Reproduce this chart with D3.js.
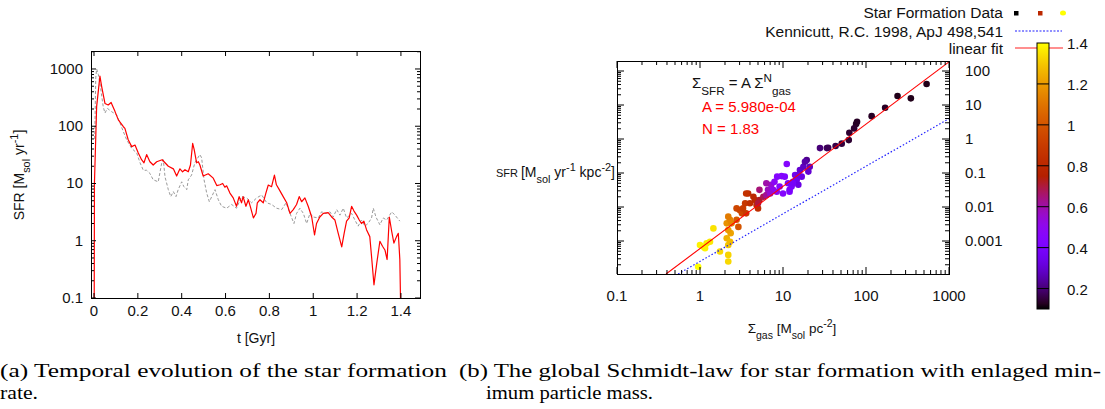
<!DOCTYPE html>
<html>
<head>
<meta charset="utf-8">
<script src="https://cdn.jsdelivr.net/npm/d3@7"></script>
<style>
    body { margin: 0; background: #fff; }
    svg text { font-family: "Liberation Sans", Arial, sans-serif; fill: #111; }
    svg text.caption { font-family: "Liberation Serif", "DejaVu Serif", serif; fill: #000; }
</style>
</head>
<body>
<div id="chart"></div>
<script>
// ============================================================
//  Star formation: SFR(t) and global Schmidt law
// ============================================================

// --- Left panel: SFR vs time (simulation = red, reference = grey dashed) ---
const simT = [0.001, 0.002, 0.012, 0.027, 0.035, 0.05, 0.065, 0.078, 0.096, 0.111, 0.134, 0.141, 0.156, 0.172, 0.187,
    0.202, 0.217, 0.228, 0.24, 0.255, 0.27, 0.286, 0.311, 0.324, 0.339, 0.362, 0.377, 0.392, 0.404, 0.415, 0.43,
    0.44, 0.45, 0.457, 0.468, 0.476, 0.483, 0.498, 0.521, 0.544, 0.56, 0.575, 0.587, 0.597, 0.605, 0.62, 0.635,
    0.65, 0.662, 0.673, 0.68, 0.693, 0.704, 0.715, 0.727, 0.739, 0.745, 0.757, 0.772, 0.784, 0.795, 0.81, 0.823,
    0.832, 0.845, 0.863, 0.879, 0.894, 0.909, 0.924, 0.936, 0.947, 0.962, 0.977, 0.993, 1.006, 1.015, 1.03, 1.046,
    1.068, 1.084, 1.099, 1.114, 1.13, 1.141, 1.152, 1.164, 1.175, 1.186, 1.198, 1.21, 1.22, 1.231, 1.243, 1.258,
    1.266, 1.277, 1.29, 1.304, 1.316, 1.327, 1.337, 1.347, 1.358, 1.368, 1.38, 1.388, 1.395, 1.398];
const simSFR = [0.1, 10, 220, 750, 490, 250, 235, 260, 180, 129, 98, 92, 58, 44, 47,
    34, 26, 23, 32, 24, 21, 24, 26, 23, 20, 18, 13.5, 18, 16, 17.4, 16,
    21, 50, 39, 23, 24, 21, 13.5, 14.8, 12.4, 9.2, 9.5, 10, 8.6, 9.1, 6.8, 5.6,
    4, 5.9, 4.6, 5.9, 4, 5.2, 3.7, 2.5, 3.0, 4.6, 5.2, 4.6, 6.8, 9.4, 8.8, 14,
    9.5, 7.8, 5.9, 4.6, 3.0, 3.5, 4.3, 5.9, 4.8, 5.6, 4, 2.6, 1.26, 2.0, 2.6, 3.0,
    3.1, 2.6, 2.3, 1.35, 0.78, 1.35, 2.2, 2.5, 4, 3.3, 2.8, 2.3, 2.0, 2.2, 1.56, 1.18,
    0.53, 0.17, 0.41, 0.98, 0.8, 0.69, 0.47, 2.6, 1.45, 0.91, 1.18, 1.35, 0.47, 0.1];

const refT = [0.003, 0.008, 0.012, 0.02, 0.027, 0.042, 0.05, 0.061, 0.08, 0.103, 0.119, 0.134, 0.149, 0.172, 0.195,
    0.21, 0.225, 0.24, 0.255, 0.27, 0.293, 0.309, 0.316, 0.324, 0.339, 0.35, 0.362, 0.374, 0.384, 0.4, 0.41,
    0.423, 0.43, 0.445, 0.46, 0.476, 0.483, 0.491, 0.502, 0.514, 0.526, 0.537, 0.552, 0.567, 0.582, 0.605, 0.628,
    0.65, 0.673, 0.696, 0.719, 0.742, 0.765, 0.788, 0.81, 0.833, 0.856, 0.876, 0.894, 0.912, 0.924, 0.939, 0.955,
    0.97, 0.985, 1.0, 1.023, 1.038, 1.058, 1.076, 1.091, 1.107, 1.122, 1.137, 1.152, 1.175, 1.19, 1.205, 1.22,
    1.236, 1.25, 1.266, 1.274, 1.286, 1.304, 1.319, 1.335, 1.358, 1.373, 1.395];
const refSFR = [60, 700, 1000, 800, 560, 220, 170, 205, 180, 158, 113, 80, 58, 41, 34,
    23, 17, 17, 15, 11.6, 10.7, 23, 26, 13, 7.8, 5.9, 7.2, 5.9, 7.8, 10.7, 8.8,
    7.8, 11.6, 14, 23, 29, 32, 28, 11.6, 6.8, 4.8, 5.9, 7.8, 5.2, 4, 3.7, 4.3,
    3.7, 5.9, 5.6, 4.6, 5.6, 6.3, 4.6, 4.3, 3.7, 3.5, 4.6, 3.0, 2.0, 3.0, 3.7, 3.0,
    2.0, 3.0, 2.6, 2.5, 3.2, 3.0, 3.2, 2.6, 3.5, 2.8, 3.7, 2.5, 3.0, 2.3, 1.8, 2.3,
    1.8, 2.0, 2.5, 3.7, 2.6, 1.9, 2.5, 2.3, 3.2, 2.8, 2.2];

const tTicks = [0, 0.2, 0.4, 0.6, 0.8, 1, 1.2, 1.4];
const sfrTicks = [0.1, 1, 10, 100, 1000];

// --- Right panel: Sigma_SFR vs Sigma_gas, coloured by time [Gyr] ---
const gasSigma = [0.95, 1.0, 1.1, 1.2, 1.15, 1.32, 1.45, 1.74, 2.19, 2.19, 2.19, 2.1, 2.3, 2.34, 2.19,
    2.1, 2.4, 2.3, 2.19, 2.76, 2.9, 2.76, 3.0, 3.2, 3.3, 3.6, 3.5, 3.8, 4.0, 4.4,
    4.6, 4.8, 5.0, 5.2, 5.8, 5.0, 6.3, 6.6, 7.2, 7.6, 7.9, 8.5, 9.6, 10.5, 9.1,
    10.0, 12.0, 11.5, 13.2, 14.6, 11.1, 16, 17.6, 20.2, 19.3, 16.8, 14.6, 7.0, 8.4, 12.7,
    14, 15.3, 13.2, 21, 18.4, 15.3, 12, 3.6, 6.3, 5.2, 27.9, 33.8,
    537, 347, 240, 170, 117, 78, 76, 72, 63, 62, 51, 43, 35];
const sfrSigma = [1.75e-4, 7.6e-4, 6.8e-4, 8.5e-4, 6.1e-4, 9.5e-4, 2.35e-3, 4.9e-4, 7.6e-4, 3.9e-4, 2.5e-4, 1.2e-3, 9.5e-4, 1.7e-3, 2.1e-3,
    3.3e-3, 3.3e-3, 4.2e-3, 5.2e-3, 4.2e-3, 2.6e-3, 9.1e-3, 8.1e-3, 6.5e-3, 9.1e-3, 6.5e-3, 0.0129, 0.025, 0.0129, 0.02,
    0.016, 0.0115, 9.1e-3, 0.016, 0.02, 0.0129, 0.0225, 0.032, 0.045, 0.032, 0.055, 0.078, 0.081, 0.078, 0.04,
    0.025, 0.028, 0.05, 0.055, 0.069, 0.184, 0.123, 0.153, 0.11, 0.24, 0.078, 0.062, 0.025, 0.028, 0.04,
    0.087, 0.045, 0.05, 0.153, 0.214, 0.087, 0.032, 0.025, 0.05, 0.032, 0.54, 0.54,
    41.5, 15.7, 18.4, 8.3, 4.7, 3.2, 2.76, 2.05, 1.53, 0.93, 0.73, 0.62, 0.55];
const formTime = [1.40, 1.38, 1.38, 1.37, 1.38, 1.36, 1.35, 1.33, 1.30, 1.32, 1.33, 1.25, 1.27, 1.22, 1.20,
    1.18, 1.15, 1.15, 1.12, 1.02, 1.00, 0.95, 0.93, 0.95, 0.90, 0.90, 0.88, 0.82, 0.83, 0.80,
    0.80, 0.82, 0.83, 0.72, 0.68, 0.70, 0.62, 0.58, 0.55, 0.50, 0.48, 0.45, 0.45, 0.42, 0.45,
    0.45, 0.42, 0.40, 0.38, 0.35, 0.45, 0.30, 0.28, 0.30, 0.22, 0.33, 0.35, 0.55, 0.50, 0.40,
    0.35, 0.33, 0.38, 0.28, 0.25, 0.33, 0.40, 0.85, 0.60, 0.65, 0.20, 0.18,
    0.12, 0.12, 0.12, 0.13, 0.13, 0.13, 0.13, 0.14, 0.14, 0.14, 0.15, 0.16, 0.17];

const gasTicks = [0.1, 1, 10, 100, 1000];
const sigmaTicks = [0.001, 0.01, 0.1, 1, 10, 100];
const cbTicks = [0.2, 0.4, 0.6, 0.8, 1, 1.2, 1.4];

// fitted line and Kennicutt relation, end points
const fitGas = [0.39, 1000];
const fitSFR = [1.07e-4, 185];
const kenGas = [0.545, 1000];
const kenSFR = [1.07e-4, 3.96];

// gnuplot default palette (rgbformulae 7,5,15)
function gpColor(f) {
    f = Math.max(0, Math.min(1, f));
    const r = Math.sqrt(f), g = f * f * f, b = Math.max(0, Math.sin(2 * Math.PI * f));
    return d3.rgb(255 * r, 255 * g, 255 * b).formatHex();
}
const cbDomain = [0.1, 1.4];
const cbColor = v => gpColor((v - cbDomain[0]) / (cbDomain[1] - cbDomain[0]));

const svg = d3.select('#chart').append('svg')
    .attr('width', 1105)
    .attr('height', 409);

function richText(sel, parts, size) {
    parts.forEach(p => {
        const ts = sel.append('tspan').text(p.t);
        if (p.sub) ts.attr('baseline-shift', 'sub').attr('font-size', size * 0.78);
        if (p.sup) ts.attr('baseline-shift', 'super').attr('font-size', size * 0.78);
    });
    return sel;
}

// inward tick marks on all four sides
function frameTicks(g, box, xs, xTicks, ys, yTicks, majLen, minLen) {
    xTicks.forEach(t => {
        const x = xs(t.v), len = t.major ? majLen : minLen;
        g.append('line').attr('x1', x).attr('x2', x).attr('y1', box.bottom).attr('y2', box.bottom - len);
        g.append('line').attr('x1', x).attr('x2', x).attr('y1', box.top).attr('y2', box.top + len);
    });
    yTicks.forEach(t => {
        const y = ys(t.v), len = t.major ? majLen : minLen;
        g.append('line').attr('x1', box.left).attr('x2', box.left + len).attr('y1', y).attr('y2', y);
        g.append('line').attr('x1', box.right).attr('x2', box.right - len).attr('y1', y).attr('y2', y);
    });
}
const logTickList = s => s.ticks().map(v => ({ v, major: Math.abs(Math.log10(v) - Math.round(Math.log10(v))) < 1e-6 }));

// ============================================================
//  LEFT PANEL
// ============================================================
const L = { left: 91, right: 420, top: 51, bottom: 298 };
const xL = d3.scaleLinear().domain([-0.0137, 1.487]).range([L.left, L.right]);
const yL = d3.scaleLog().domain([0.1, 2060]).range([L.bottom, L.top]);

svg.append('clipPath').attr('id', 'clipL').append('rect')
    .attr('x', L.left).attr('y', L.top).attr('width', L.right - L.left).attr('height', L.bottom - L.top);

const lineL = d3.line().x(d => xL(d[0])).y(d => yL(d[1]));
const gL = svg.append('g').attr('clip-path', 'url(#clipL)');

gL.append('path')
    .datum(refT.map((t, i) => [t, refSFR[i]]))
    .attr('d', lineL)
    .attr('fill', 'none')
    .attr('stroke', '#9a9a9a')
    .attr('stroke-width', 1)
    .attr('stroke-dasharray', '3,2');

gL.append('path')
    .datum(simT.map((t, i) => [t, simSFR[i]]))
    .attr('d', lineL)
    .attr('fill', 'none')
    .attr('stroke', '#ff0000')
    .attr('stroke-width', 1.2)
    .attr('stroke-linejoin', 'round');

const tickL = svg.append('g').attr('stroke', '#000').attr('stroke-width', 1);
frameTicks(tickL, L, xL, tTicks.map(v => ({ v, major: true })), yL, logTickList(yL), 5, 3);

svg.append('rect')
    .attr('x', L.left + 0.5).attr('y', L.top + 0.5)
    .attr('width', L.right - L.left).attr('height', L.bottom - L.top)
    .attr('fill', 'none').attr('stroke', '#000');

svg.append('g').selectAll('text').data(sfrTicks).enter().append('text')
    .attr('x', 83).attr('y', d => yL(d) + 5)
    .attr('text-anchor', 'end').attr('font-size', 15)
    .text(d => String(d));

svg.append('g').selectAll('text').data(tTicks).enter().append('text')
    .attr('x', d => xL(d)).attr('y', 316)
    .attr('text-anchor', 'middle').attr('font-size', 15)
    .text(d => String(d));

richText(svg.append('text')
    .attr('transform', 'translate(24,175) rotate(-90)')
    .attr('text-anchor', 'middle').attr('font-size', 14),
    [{ t: 'SFR [M' }, { t: 'sol', sub: true }, { t: ' yr' }, { t: '-1', sup: true }, { t: ']' }], 14);

svg.append('text')
    .attr('x', 256).attr('y', 343)
    .attr('text-anchor', 'middle').attr('font-size', 14)
    .text('t [Gyr]');

// ============================================================
//  RIGHT PANEL
// ============================================================
const R = { left: 617, right: 949, top: 61, bottom: 274 };
const xR = d3.scaleLog().domain([0.1, 1000]).range([R.left, R.right]);
const yR = d3.scaleLog().domain([1.07e-4, 197]).range([R.bottom, R.top]);

svg.append('clipPath').attr('id', 'clipR').append('rect')
    .attr('x', R.left).attr('y', R.top).attr('width', R.right - R.left).attr('height', R.bottom - R.top);
const gR = svg.append('g').attr('clip-path', 'url(#clipR)');

// data points
gR.selectAll('.sf-pt')
    .data(gasSigma.map((g, i) => ({ gas: g, sfr: sfrSigma[i], t: formTime[i] })))
    .enter().append('circle')
    .attr('class', 'sf-pt')
    .attr('cx', d => xR(d.gas))
    .attr('cy', d => yR(d.sfr))
    .attr('r', 3.3)
    .attr('fill', d => cbColor(d.t));

const lineR = d3.line().x(d => xR(d[0])).y(d => yR(d[1]));
gR.append('path')
    .datum(kenGas.map((g, i) => [g, kenSFR[i]]))
    .attr('d', lineR)
    .attr('fill', 'none').attr('stroke', '#2020ff')
    .attr('stroke-width', 1.2).attr('stroke-dasharray', '1.5,2');
gR.append('path')
    .datum(fitGas.map((g, i) => [g, fitSFR[i]]))
    .attr('d', lineR)
    .attr('fill', 'none').attr('stroke', '#ff0000').attr('stroke-width', 1.1);

const tickR = svg.append('g').attr('stroke', '#000').attr('stroke-width', 1);
frameTicks(tickR, R, xR, logTickList(xR), yR, logTickList(yR), 7, 4);

svg.append('rect')
    .attr('x', R.left + 0.5).attr('y', R.top + 0.5)
    .attr('width', R.right - R.left).attr('height', R.bottom - R.top)
    .attr('fill', 'none').attr('stroke', '#000');

svg.append('g').selectAll('text').data(gasTicks).enter().append('text')
    .attr('x', d => xR(d)).attr('y', 301)
    .attr('text-anchor', 'middle').attr('font-size', 15)
    .text(d => String(d));

svg.append('g').selectAll('text').data(sigmaTicks).enter().append('text')
    .attr('x', 965).attr('y', d => yR(d) + 5)
    .attr('font-size', 15)
    .text(d => String(d));

// axis labels
const yLab = svg.append('text').attr('x', 615).attr('y', 177).attr('text-anchor', 'end').attr('font-size', 14);
yLab.append('tspan').attr('font-size', 11).text('SFR ');
richText(yLab, [{ t: '[M' }, { t: 'sol', sub: true }, { t: ' yr' }, { t: '-1', sup: true },
    { t: ' kpc' }, { t: '-2', sup: true }, { t: ']' }], 14);

richText(svg.append('text').attr('x', 792).attr('y', 333).attr('text-anchor', 'middle').attr('font-size', 13.5),
    [{ t: 'Σ' }, { t: 'gas', sub: true }, { t: ' [M' }, { t: 'sol', sub: true }, { t: ' pc' }, { t: '-2', sup: true }, { t: ']' }], 13.5);

// fit annotation
richText(svg.append('text').attr('x', 692).attr('y', 88).attr('font-size', 15),
    [{ t: 'Σ' }, { t: 'SFR', sub: true }, { t: ' = A Σ' }, { t: 'N', sup: true }, { t: 'gas', sub: true }], 15);
svg.append('text').attr('x', 702).attr('y', 112).attr('font-size', 15)
    .style('fill', '#ff0000').text('A = 5.980e-04');
svg.append('text').attr('x', 702).attr('y', 134).attr('font-size', 15)
    .style('fill', '#ff0000').text('N = 1.83');

// --- Legend ---
const legendRows = ['Star Formation Data', 'Kennicutt, R.C. 1998, ApJ 498,541', 'linear fit'];
const legendY = [18, 37, 54];
legendRows.forEach((txt, i) => {
    svg.append('text').attr('x', 1003).attr('y', legendY[i])
        .attr('text-anchor', 'end').attr('font-size', 15.5).text(txt);
});
svg.append('rect').attr('x', 1014).attr('y', 11).attr('width', 4.5).attr('height', 4.5).attr('fill', '#000');
svg.append('rect').attr('x', 1038).attr('y', 11).attr('width', 4.5).attr('height', 4.5).attr('fill', cbColor(0.8));
svg.append('ellipse').attr('cx', 1063).attr('cy', 13).attr('rx', 3).attr('ry', 2.5).attr('fill', cbColor(1.4));
svg.append('line').attr('x1', 1015).attr('x2', 1062).attr('y1', 31).attr('y2', 31)
    .attr('stroke', '#2020ff').attr('stroke-width', 1.2).attr('stroke-dasharray', '2,1.5');
svg.append('line').attr('x1', 1015).attr('x2', 1063).attr('y1', 48).attr('y2', 48)
    .attr('stroke', '#ff2020').attr('stroke-width', 1.2);

// --- Colour box ---
const CB = { left: 1037, right: 1049, top: 43, bottom: 309 };
const yCB = d3.scaleLinear().domain(cbDomain).range([CB.bottom, CB.top]);
const grad = svg.append('defs').append('linearGradient')
    .attr('id', 'cbGrad').attr('x1', 0).attr('y1', 1).attr('x2', 0).attr('y2', 0);
d3.range(0, 1.0001, 1 / 48).forEach(f => {
    grad.append('stop').attr('offset', f).attr('stop-color', gpColor(f));
});
svg.append('rect')
    .attr('x', CB.left).attr('y', CB.top)
    .attr('width', CB.right - CB.left).attr('height', CB.bottom - CB.top)
    .attr('fill', 'url(#cbGrad)').attr('stroke', '#000').attr('stroke-width', 1);
svg.append('g').selectAll('line').data(cbTicks.slice(0, -1)).enter().append('line')
    .attr('x1', CB.left).attr('x2', CB.right)
    .attr('y1', d => yCB(d)).attr('y2', d => yCB(d))
    .attr('stroke', '#000').attr('stroke-width', 1);
svg.append('g').selectAll('text').data(cbTicks).enter().append('text')
    .attr('x', 1067).attr('y', d => yCB(d) + 6)
    .attr('font-size', 15)
    .text(d => String(d));

// ============================================================
//  CAPTIONS
// ============================================================
const captions = [
    { x: 0, y: 377, w: 447, t: '(a) Temporal evolution of the star formation' },
    { x: 0, y: 399, w: 38, t: 'rate.' },
    { x: 459, y: 377, w: 642, t: '(b) The global Schmidt-law for star formation with enlaged min-' },
    { x: 486, y: 399, w: 167, t: 'imum particle mass.' }
];
captions.forEach(c => {
    svg.append('text').attr('class', 'caption')
        .attr('x', c.x).attr('y', c.y)
        .attr('font-size', 18.5)
        .attr('textLength', c.w).attr('lengthAdjust', 'spacingAndGlyphs')
        .text(c.t);
});
</script>
</body>
</html>
